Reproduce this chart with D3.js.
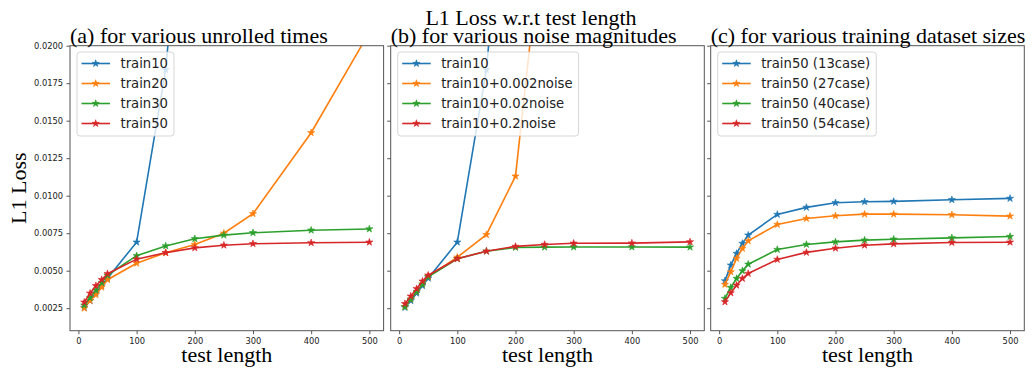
<!DOCTYPE html>
<html>
<head>
<meta charset="utf-8">
<script src="https://cdn.jsdelivr.net/npm/d3@7"></script>
<style>
  body { margin: 0; background: #fff; }
  svg { display: block; }
</style>
</head>
<body>
<div id="chart"></div>
<script>
// test lengths on the x axis
const testLength = [10, 20, 30, 40, 50, 100, 150, 200, 250, 300, 400, 500];

// (a) unrolled times
const train10 = [0.00255, 0.0030, 0.0035, 0.0040, 0.0045, 0.0069, 0.0184, 0.040];
const train20 = [0.0025, 0.0030, 0.0034, 0.0039, 0.0044, 0.0055, 0.0062, 0.00675, 0.0075, 0.0088, 0.0142, 0.0209];
const train30 = [0.0027, 0.0032, 0.0037, 0.0042, 0.0047, 0.0060, 0.00665, 0.00713, 0.00737, 0.00753, 0.0077, 0.00778];
const train50 = [0.0029, 0.0035, 0.0040, 0.0044, 0.0048, 0.00577, 0.0062, 0.00652, 0.0067, 0.0068, 0.00686, 0.0069];

// (b) noise magnitudes
const noise002 = [0.0026, 0.0031, 0.0036, 0.0041, 0.0046, 0.0059, 0.0074, 0.0113, 0.029];
const noise02 = [0.0026, 0.0031, 0.0036, 0.0041, 0.0046, 0.0058, 0.0063, 0.00655, 0.00657, 0.00658, 0.00658, 0.00657];
const noise2 = [0.0028, 0.0033, 0.0038, 0.0043, 0.0047, 0.0058, 0.0063, 0.00662, 0.00675, 0.00683, 0.00684, 0.00692];

// (c) dataset sizes
const case13 = [0.00432, 0.00537, 0.00615, 0.00682, 0.00737, 0.00875, 0.00922, 0.00953, 0.0096, 0.00962, 0.00973, 0.00982];
const case27 = [0.00408, 0.00492, 0.00582, 0.00648, 0.00699, 0.00808, 0.00848, 0.00866, 0.00877, 0.00877, 0.00873, 0.00864];
const case40 = [0.00315, 0.00388, 0.00448, 0.00499, 0.00543, 0.00641, 0.00675, 0.00692, 0.00704, 0.0071, 0.00719, 0.00728];
const case54 = [0.00292, 0.00352, 0.00403, 0.00448, 0.00481, 0.00575, 0.00622, 0.0065, 0.0067, 0.00679, 0.00688, 0.0069];

const xTicks = [0, 100, 200, 300, 400, 500];
const yTicks = [0.0025, 0.005, 0.0075, 0.01, 0.0125, 0.015, 0.0175, 0.02];
const colors = ["#1f77b4", "#ff7f0e", "#2ca02c", "#d62728"];

const panels = [
  { title: "(a) for various unrolled times", left: 70,
    names: ["train10", "train20", "train30", "train50"],
    values: [train10, train20, train30, train50] },
  { title: "(b) for various noise magnitudes", left: 390.7,
    names: ["train10", "train10+0.002noise", "train10+0.02noise", "train10+0.2noise"],
    values: [train10, noise002, noise02, noise2] },
  { title: "(c) for various training dataset sizes", left: 710.7,
    names: ["train50 (13case)", "train50 (27case)", "train50 (40case)", "train50 (54case)"],
    values: [case13, case27, case40, case54] },
];

const width = 1032, height = 368;
const pw = 313.6, plotTop = 45.7, plotBottom = 330.7;
const serif = "'Liberation Serif', 'Times New Roman', serif";
const sans = "'DejaVu Sans', sans-serif";

const svg = d3.select("#chart").append("svg")
  .attr("width", width)
  .attr("height", height);

const y = d3.scaleLinear().domain([0.001, 0.02]).range([plotBottom, plotTop]);

svg.append("text")
  .attr("x", 531).attr("y", 25)
  .attr("text-anchor", "middle")
  .style("font-family", serif).style("font-size", "22px")
  .text("L1 Loss w.r.t test length");

svg.append("text")
  .attr("transform", `translate(26,${(plotTop + plotBottom) / 2}) rotate(-90)`)
  .attr("text-anchor", "middle")
  .style("font-family", serif).style("font-size", "22px")
  .text("L1 Loss");

const star = d3.symbol().type(d3.symbolStar).size(16);

panels.forEach((p, pi) => {
  const x = d3.scaleLinear().domain([-14.5, 524.5]).range([p.left, p.left + pw]);
  const g = svg.append("g");

  g.append("clipPath").attr("id", "clip" + pi)
    .append("rect")
    .attr("x", p.left).attr("y", plotTop)
    .attr("width", pw).attr("height", plotBottom - plotTop);

  // x axis
  const xa = g.append("g")
    .attr("transform", `translate(0,${plotBottom})`)
    .call(d3.axisBottom(x).tickValues(xTicks).tickSize(3.5).tickPadding(3.5));
  // y axis
  const ya = g.append("g")
    .attr("transform", `translate(${p.left},0)`)
    .call(d3.axisLeft(y).tickValues(yTicks).tickSize(3.5).tickPadding(3.5)
      .tickFormat(pi === 0 ? d3.format(".4f") : () => ""));
  [xa, ya].forEach(a => {
    a.select(".domain").remove();
    a.selectAll("line").attr("stroke", "#444").attr("stroke-width", 0.9);
    a.selectAll("text").style("font-family", sans).style("font-size", "8.3px").attr("fill", "#222");
  });

  const plot = g.append("g").attr("clip-path", `url(#clip${pi})`);
  const line = d3.line().x((d, i) => x(testLength[i])).y(d => y(d));

  p.values.forEach((vals, si) => {
    plot.append("path")
      .attr("d", line(vals))
      .attr("fill", "none")
      .attr("stroke", colors[si])
      .attr("stroke-width", 1.6);
    plot.selectAll(null)
      .data(vals)
      .enter()
      .append("path")
      .attr("d", star)
      .attr("transform", (d, i) => `translate(${x(testLength[i])},${y(d)})`)
      .attr("fill", colors[si])
      .attr("stroke", colors[si])
      .attr("stroke-width", 0.6);
  });

  // frame
  g.append("rect")
    .attr("x", p.left).attr("y", plotTop)
    .attr("width", pw).attr("height", plotBottom - plotTop)
    .attr("fill", "none")
    .attr("stroke", "#555")
    .attr("stroke-width", 1);

  // legend
  const lg = g.append("g").attr("transform", `translate(${p.left + 7},52)`);
  const box = lg.append("rect")
    .attr("rx", 3).attr("ry", 3)
    .attr("height", 84)
    .attr("fill", "#fff").attr("fill-opacity", 0.8)
    .attr("stroke", "#ccc").attr("stroke-width", 0.8);
  let maxW = 0;
  p.names.forEach((name, si) => {
    const ry = 11.5 + si * 20;
    lg.append("line")
      .attr("x1", 4.5).attr("x2", 33).attr("y1", ry).attr("y2", ry)
      .attr("stroke", colors[si]).attr("stroke-width", 1.6);
    lg.append("path")
      .attr("d", star)
      .attr("transform", `translate(18.7,${ry})`)
      .attr("fill", colors[si]).attr("stroke", colors[si]).attr("stroke-width", 0.6);
    const t = lg.append("text")
      .attr("x", 43.5).attr("y", ry + 4.7)
      .style("font-family", sans).style("font-size", "13.2px")
      .attr("fill", "#222")
      .text(name);
    maxW = Math.max(maxW, t.node().getComputedTextLength());
  });
  box.attr("width", 43.5 + maxW + 6);

  g.append("text")
    .attr("x", p.left).attr("y", 43)
    .style("font-family", serif).style("font-size", "22px")
    .text(p.title);

  g.append("text")
    .attr("x", p.left + pw / 2).attr("y", 362)
    .attr("text-anchor", "middle")
    .style("font-family", serif).style("font-size", "22px")
    .text("test length");
});
</script>
</body>
</html>
